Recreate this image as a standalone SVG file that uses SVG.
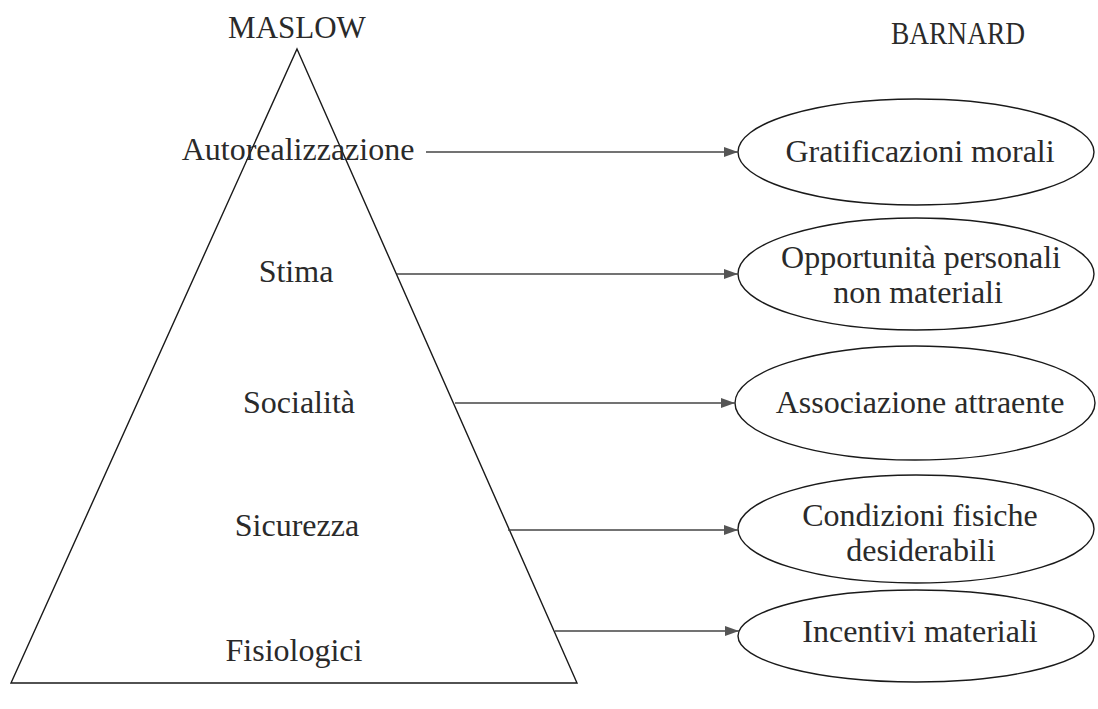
<svg xmlns="http://www.w3.org/2000/svg" width="1098" height="709" viewBox="0 0 1098 709">
<style>
text{font-family:"Liberation Serif","DejaVu Serif",serif;font-size:32px;fill:#2a2a2a;text-anchor:middle}
.title{font-size:31px}
.shape{fill:none;stroke:#1a1a1a;stroke-width:1.4}
.conn{stroke:#444;stroke-width:1.5;fill:none}
</style>
<defs>
<marker id="ah" viewBox="0 0 14 10" refX="14" refY="5" markerWidth="14" markerHeight="10" markerUnits="userSpaceOnUse" orient="auto">
<path d="M0,0 L14,5 L0,10 z" fill="#555"/>
</marker>
</defs>
<rect width="1098" height="709" fill="#fff"/>
<text class="title" x="297" y="38">MASLOW</text>
<text class="title" x="958" y="44" textLength="134" lengthAdjust="spacingAndGlyphs">BARNARD</text>
<g id="pyramid">
<polygon class="shape" points="297,49 577,683 11,683"/>
<text x="298" y="160">Autorealizzazione</text>
<text x="296" y="282">Stima</text>
<text x="299" y="413">Socialità</text>
<text x="297" y="536">Sicurezza</text>
<text x="294" y="661">Fisiologici</text>
</g>
<g id="n1"><ellipse class="shape" cx="916" cy="152" rx="178" ry="53"/><text x="920" y="162">Gratificazioni morali</text></g>
<g id="n2"><ellipse class="shape" cx="916" cy="274" rx="178" ry="56"/><text x="921" y="268">Opportunità personali</text><text x="918" y="303">non materiali</text></g>
<g id="n3"><ellipse class="shape" cx="915" cy="403" rx="180" ry="57"/><text x="920" y="413">Associazione attraente</text></g>
<g id="n4"><ellipse class="shape" cx="916" cy="529" rx="178" ry="54"/><text x="920" y="526">Condizioni fisiche</text><text x="921" y="561">desiderabili</text></g>
<g id="n5"><ellipse class="shape" cx="916" cy="636" rx="178" ry="46"/><text x="920" y="642">Incentivi materiali</text></g>
<g id="connectors">
<line class="conn" x1="426" y1="152" x2="738" y2="152" marker-end="url(#ah)"/>
<line class="conn" x1="397" y1="274" x2="738" y2="274" marker-end="url(#ah)"/>
<line class="conn" x1="455" y1="403" x2="735" y2="403" marker-end="url(#ah)"/>
<line class="conn" x1="508" y1="530" x2="738" y2="530" marker-end="url(#ah)"/>
<line class="conn" x1="555" y1="631" x2="739" y2="631" marker-end="url(#ah)"/>
</g>
</svg>
